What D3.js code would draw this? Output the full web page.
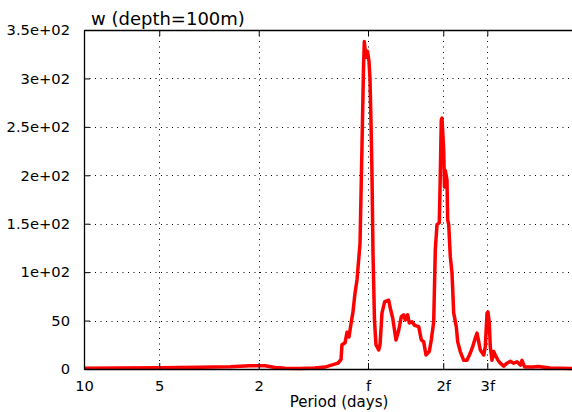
<!DOCTYPE html>
<html>
<head>
<meta charset="utf-8">
<script src="https://cdn.jsdelivr.net/npm/d3@7/dist/d3.min.js"></script>
<style>
  html, body { margin: 0; padding: 0; background: #fff; }
  svg { display: block; font-family: "DejaVu Sans", sans-serif; }
</style>
</head>
<body>
<svg id="chart" width="572" height="412"></svg>
<script>
// ---- data (frequency in cycles/day, spectral power) ----
const inertialFreq = 1.368; // f, cycles per day
const freq = [0.100, 0.139, 0.201, 0.291, 0.384, 0.461, 0.530, 0.581, 0.637, 0.731,
  0.839, 0.920, 0.991, 1.038, 1.067, 1.076, 1.107, 1.127, 1.148, 1.170,
  1.191, 1.213, 1.236, 1.271, 1.294, 1.312, 1.322, 1.337, 1.349, 1.361,
  1.380, 1.393, 1.406, 1.419, 1.432, 1.452, 1.472, 1.509, 1.528, 1.556,
  1.595, 1.655, 1.675, 1.717, 1.770, 1.815, 1.859, 1.900, 1.928, 1.971,
  2.000, 2.051, 2.103, 2.182, 2.235, 2.285, 2.333, 2.405, 2.450, 2.505,
  2.542, 2.582, 2.637, 2.661, 2.686, 2.704, 2.746, 2.767, 2.787, 2.831,
  2.849, 2.876, 2.919, 2.965, 3.011, 3.084, 3.125, 3.200, 3.302, 3.404,
  3.509, 3.587, 3.654, 3.733, 3.792, 3.848, 3.971, 4.029, 4.093, 4.130,
  4.180, 4.219, 4.285, 4.352, 4.417, 4.529, 4.625, 4.772, 4.920, 5.072,
  5.233, 5.395, 5.562, 5.649, 5.792, 6.252, 6.546, 7.311, 8.954];
const power = [0.7, 1.0, 1.3, 1.8, 2.4, 3.3, 3.4, 1.5, 0.8, 0.6,
  1.0, 2.0, 4.5, 6, 10, 25, 27, 38, 33, 47,
  59, 78, 92, 130, 230, 310, 338, 325, 322, 328,
  318, 300, 255, 200, 120, 50, 25, 19.6, 25, 58,
  69.5, 71, 64, 52.6, 30, 40, 54, 56, 50.6, 56,
  47.5, 48.8, 45, 43.7, 30, 28, 14.5, 18, 30, 48.8,
  123, 149, 151, 198, 257, 259, 226, 188, 205, 195,
  154, 149, 116, 99, 58, 43.7, 28, 18, 9, 9,
  16.5, 23, 30, 37, 28, 19.6, 14.5, 23, 57.5, 59,
  47.5, 23, 9, 18, 14.5, 9, 6, 3, 6, 8,
  6, 7.5, 4, 9, 2, 2, 2.5, 1, 0.5];

const xTickValues = [1/10, 1/5, 1/2, inertialFreq, 2*inertialFreq, 3*inertialFreq];
const xTickLabels = ["10", "5", "2", "f", "2f", "3f"];
const yTickValues = [0, 50, 100, 150, 200, 250, 300, 350];
const yTickLabels = ["0", "50", "1e+02", "1.5e+02", "2e+02", "2.5e+02", "3e+02", "3.5e+02"];
const titleText = "w (depth=100m)";
const xLabelText = "Period (days)";

// ---- layout ----
const mLeft = 84, mTop = 30, mBottom = 369, mRight = 580;
const svg = d3.select("#chart");

const x = d3.scaleLog().domain([0.1, 0.1 * Math.pow(10, (mRight - mLeft) / 250)]).range([mLeft, mRight]);
const y = d3.scaleLinear().domain([0, 350]).range([mBottom, mTop]);

// grid
const grid = svg.append("g");
grid.selectAll("line.h").data(yTickValues.slice(1)).enter().append("line")
  .attr("x1", mLeft).attr("x2", mRight)
  .attr("y1", d => Math.round(y(d)) + 0.5).attr("y2", d => Math.round(y(d)) + 0.5)
  .attr("stroke", "#000").attr("stroke-width", 1).attr("stroke-dasharray", "1,4.5");
grid.selectAll("line.v").data(xTickValues.slice(1)).enter().append("line")
  .attr("x1", d => Math.round(x(d)) + 0.5).attr("x2", d => Math.round(x(d)) + 0.5)
  .attr("y1", mTop).attr("y2", mBottom)
  .attr("stroke", "#000").attr("stroke-width", 1).attr("stroke-dasharray", "1,4.5");

// line
const line = d3.line().x((d, i) => x(freq[i])).y(d => y(d));
svg.append("path").datum(power)
  .attr("d", line)
  .attr("fill", "none").attr("stroke", "#ff0000").attr("stroke-width", 3.5)
  .attr("stroke-linejoin", "round");

// axes
const xAxisB = d3.axisBottom(x).tickValues(xTickValues).tickFormat((d, i) => xTickLabels[i])
  .tickSizeInner(-6).tickSizeOuter(0).tickPadding(12);
const gxb = svg.append("g").attr("transform", `translate(0,${mBottom})`).call(xAxisB);
const xAxisT = d3.axisTop(x).tickValues(xTickValues).tickFormat("").tickSizeInner(-6).tickSizeOuter(0);
const gxt = svg.append("g").attr("transform", `translate(0,${mTop})`).call(xAxisT);
const yAxisL = d3.axisLeft(y).tickValues(yTickValues).tickFormat((d, i) => yTickLabels[i])
  .tickSizeInner(-6).tickSizeOuter(0).tickPadding(14);
const gyl = svg.append("g").attr("transform", `translate(${mLeft},0)`).call(yAxisL);

[gxb, gxt, gyl].forEach(g => {
  g.select(".domain").attr("stroke", "#000").attr("stroke-width", 1.3);
  g.selectAll(".tick line").attr("stroke", "#000").attr("stroke-width", 1);
  g.selectAll(".tick text").attr("fill", "#000").style("font-size", "14.7px")
    .style("font-family", "'DejaVu Sans', sans-serif");
});

// title and label
svg.append("text").attr("x", 91).attr("y", 25).text(titleText)
  .style("font-size", "18px").attr("fill", "#000");
svg.append("text").attr("x", 339).attr("y", 407).attr("text-anchor", "middle").text(xLabelText)
  .style("font-size", "15px").attr("fill", "#000");
</script>
</body>
</html>
